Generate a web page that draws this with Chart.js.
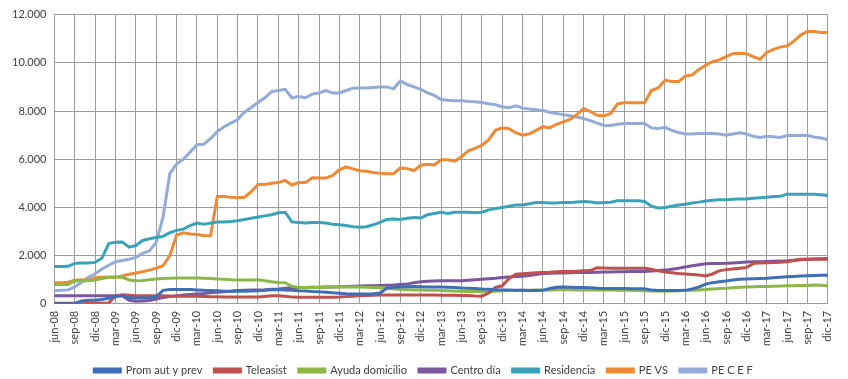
<!DOCTYPE html>
<html>
<head>
<meta charset="utf-8">
<script src="https://cdn.jsdelivr.net/npm/chart.js@4/dist/chart.umd.min.js"></script>
<style>
  html, body { margin: 0; padding: 0; background: #fff; }
  #wrap { width: 848px; height: 379px; }
</style>
</head>
<body>
<div id="wrap"><canvas id="chart"></canvas></div>
<script>
// months jun-08 .. dic-17
var meses = ['ene','feb','mar','abr','may','jun','jul','ago','sep','oct','nov','dic'];
var anyos = ['08','09','10','11','12','13','14','15','16','17'];
var labels = [];
for (var a = 0; a < anyos.length; a++) {
  for (var m = (a == 0 ? 5 : 0); m < 12; m++) {
    labels.push(meses[m] + '-' + anyos[a]);
  }
}

var promAut = [
  0, 0, 0, 20, 120, 150, 150, 180, 230, 300,
  340, 250, 240, 240, 250, 300, 560, 600, 600, 600,
  600, 580, 560, 550, 540, 520, 520, 520, 520, 530,
  540, 560, 590, 600, 580, 560, 540, 530, 510, 500,
  480, 460, 440, 420, 410, 410, 410, 420, 450, 650,
  690, 700, 710, 720, 710, 700, 700, 700, 690, 680,
  660, 650, 640, 620, 610, 590, 580, 570, 560, 560,
  550, 550, 560, 640, 690, 700, 690, 680, 680, 670,
  650, 640, 640, 640, 640, 630, 630, 630, 570, 550,
  550, 550, 550, 560, 620, 700, 820, 880, 920, 950,
  990, 1020, 1030, 1040, 1050, 1060, 1080, 1100, 1120, 1140,
  1160, 1170, 1180, 1190, 1190
];
var teleasist = [
  30, 30, 30, 30, 30, 30, 30, 30, 40, 330,
  380, 360, 340, 340, 340, 340, 340, 330, 320, 320,
  320, 320, 310, 300, 290, 280, 280, 280, 280, 280,
  280, 310, 340, 340, 320, 280, 270, 270, 270, 270,
  270, 270, 280, 300, 320, 340, 350, 360, 370, 370,
  370, 370, 370, 370, 370, 370, 370, 360, 360, 360,
  350, 350, 330, 320, 450, 680, 750, 1050, 1230, 1250,
  1270, 1290, 1300, 1310, 1330, 1340, 1340, 1350, 1370, 1380,
  1500, 1490, 1480, 1480, 1480, 1480, 1480, 1480, 1440, 1370,
  1320, 1290, 1260, 1240, 1220, 1200, 1160, 1240, 1370, 1420,
  1450, 1480, 1510, 1670, 1700, 1710, 1720, 1730, 1750, 1800,
  1850, 1850, 1860, 1850, 1850
];
var ayudaDomicilio = [
  800, 800, 800, 950, 960, 960, 990, 1050, 1100, 1110,
  1100, 990, 960, 970, 1000, 1030, 1050, 1060, 1070, 1070,
  1070, 1070, 1060, 1050, 1030, 1020, 1000, 990, 990, 990,
  1000, 960, 920, 890, 880, 730, 680, 680, 680, 680,
  690, 700, 700, 700, 700, 700, 690, 680, 680, 650,
  620, 600, 590, 580, 570, 560, 560, 550, 540, 530,
  520, 510, 510, 510, 510, 520, 540, 550, 550, 560,
  560, 570, 580, 580, 590, 590, 590, 580, 580, 580,
  570, 570, 570, 560, 560, 560, 550, 540, 530, 530,
  530, 530, 540, 550, 560, 580, 600, 620, 640, 650,
  670, 690, 700, 710, 720, 720, 730, 740, 750, 750,
  760, 760, 780, 770, 750
];
var centroDia = [
  340, 340, 340, 340, 340, 340, 340, 340, 340, 340,
  340, 150, 110, 120, 140, 200, 260, 300, 340, 370,
  390, 410, 430, 460, 480, 500, 520, 550, 560, 570,
  580, 590, 610, 620, 650, 670, 680, 680, 690, 690,
  700, 700, 710, 720, 730, 740, 750, 750, 760, 770,
  780, 800, 820, 880, 920, 940, 950, 960, 960, 960,
  960, 980, 1000, 1020, 1040, 1060, 1090, 1110, 1130, 1150,
  1180, 1220, 1260, 1270, 1280, 1280, 1290, 1300, 1300, 1300,
  1310, 1320, 1320, 1330, 1330, 1340, 1340, 1340, 1360, 1380,
  1400, 1440, 1480, 1530, 1580, 1620, 1660, 1670, 1670, 1680,
  1700, 1720, 1740, 1745, 1750, 1760, 1770, 1780, 1790, 1810,
  1830, 1850, 1860, 1870, 1880
];
var residencia = [
  1550, 1550, 1560, 1680, 1700, 1700, 1720, 1900, 2500, 2560,
  2570, 2350, 2420, 2630, 2700, 2750, 2800, 2950, 3050, 3100,
  3250, 3350, 3300, 3350, 3400, 3400, 3420, 3450, 3500, 3550,
  3600, 3650, 3700, 3780, 3800, 3400, 3380, 3350, 3380, 3380,
  3350, 3300, 3280, 3250, 3200, 3180, 3200, 3280, 3380, 3500,
  3520, 3500, 3550, 3580, 3560, 3700, 3750, 3800, 3750, 3800,
  3800, 3800, 3780, 3800, 3900, 3950, 4000, 4050, 4100, 4100,
  4150, 4200, 4200, 4180, 4180, 4200, 4200, 4230, 4250, 4230,
  4180, 4200, 4220, 4280, 4280, 4280, 4280, 4250, 4050, 3980,
  4000, 4050, 4100, 4130, 4180, 4220, 4270, 4300, 4320, 4320,
  4340, 4350, 4350, 4380, 4400, 4420, 4450, 4460, 4550, 4550,
  4550, 4550, 4550, 4530, 4500
];
var peVS = [
  880, 880, 900, 980, 1000, 970, 1080, 1100, 1100, 1100,
  1160, 1230, 1280, 1330, 1400, 1480, 1580, 2000, 2850, 2950,
  2900, 2880, 2840, 2830, 4450, 4450, 4420, 4400, 4420, 4650,
  4950, 4950, 5000, 5030, 5120, 4930, 5030, 5030, 5230, 5220,
  5220, 5330, 5560, 5680, 5600, 5520, 5500, 5450, 5420, 5400,
  5400, 5640, 5610, 5530, 5750, 5790, 5760, 5980, 5980, 5920,
  6100, 6350, 6450, 6580, 6800, 7200, 7300, 7270, 7100, 7000,
  7050, 7200, 7350, 7300, 7450, 7550, 7650, 7850, 8100, 7980,
  7820, 7800, 7900, 8300, 8340, 8340, 8340, 8340, 8850, 8960,
  9280, 9220, 9220, 9450, 9500, 9720, 9900, 10050, 10120, 10260,
  10380, 10400, 10380, 10260, 10150, 10430, 10560, 10650, 10700, 10900,
  11150, 11300, 11300, 11260, 11260
];
var peCEF = [
  550, 560, 580, 700, 900, 1100, 1250, 1450, 1600, 1750,
  1800, 1850, 1930, 2100, 2200, 2550, 3600, 5400, 5800, 6000,
  6300, 6600, 6620, 6850, 7150, 7350, 7500, 7650, 7950, 8150,
  8350, 8550, 8800, 8850, 8900, 8550, 8600, 8550, 8700, 8750,
  8850, 8750, 8750, 8850, 8950, 8960, 8960, 8980, 9000, 9000,
  8920, 9250, 9100, 9000, 8900, 8750, 8650, 8480, 8450, 8430,
  8430, 8400, 8380, 8350, 8300, 8260, 8180, 8140, 8220, 8120,
  8080, 8050, 8020, 7950, 7900, 7850, 7800, 7750, 7690, 7600,
  7500, 7400, 7400, 7450, 7480, 7480, 7480, 7480, 7300, 7280,
  7320, 7200, 7110, 7050, 7050, 7070, 7070, 7070, 7050, 7000,
  7050, 7100, 7050, 6950, 6900, 6950, 6930, 6900, 6980, 6980,
  6990, 6980, 6920, 6880, 6820
];

var nombres = ['Prom aut y prev', 'Teleasist', 'Ayuda domicilio', 'Centro día', 'Residencia', 'PE VS', 'PE C E F'];
var colores = ['#3F6EB8', '#C0504D', '#8DB849', '#7A58A0', '#3AA3B8', '#EE8A35', '#93ABD6'];
var series = [promAut, teleasist, ayudaDomicilio, centroDia, residencia, peVS, peCEF];

var datasets = [];
for (var i = 0; i < series.length; i++) {
  datasets.push({
    label: nombres[i],
    data: series[i],
    borderColor: colores[i],
    backgroundColor: colores[i],
    borderWidth: 3,
    pointRadius: 0,
    tension: 0,
    fill: false
  });
}

var fmt = function(v){
  return String(v).replace(/\B(?=(\d{3})+(?!\d))/g, '.');
};

Chart.defaults.font.family = 'Lato, "Open Sans", sans-serif';
Chart.defaults.color = '#404040';

new Chart(document.getElementById('chart').getContext('2d'), {
  type: 'line',
  data: { labels: labels, datasets: datasets },
  options: {
    responsive: true,
    maintainAspectRatio: false,
    animation: false,
    layout: { padding: { left: 4, right: 5, top: 6, bottom: -7 } },
    plugins: {
      tooltip: { enabled: false },
      legend: {
        position: 'bottom',
        labels: {
          boxWidth: 26,
          boxHeight: 3,
          padding: 12,
          font: { size: 11 }
        }
      }
    },
    scales: {
      x: {
        offset: false,
        afterBuildTicks: function(s){
          s.ticks = s.ticks.filter(function(t, i){ return i % 3 == 0; });
        },
        ticks: {
          autoSkip: false,
          maxRotation: 90,
          minRotation: 90,
          padding: 7,
          font: { size: 11 }
        },
        grid: { color: '#9c9c9c', drawTicks: false },
        border: { color: '#9c9c9c' }
      },
      y: {
        min: 0,
        max: 12000,
        ticks: {
          stepSize: 2000,
          padding: 8,
          font: { size: 11 },
          callback: function(v){ return fmt(v); }
        },
        grid: { color: '#9c9c9c', drawTicks: false },
        border: { display: false }
      }
    }
  }
});
</script>
</body>
</html>
